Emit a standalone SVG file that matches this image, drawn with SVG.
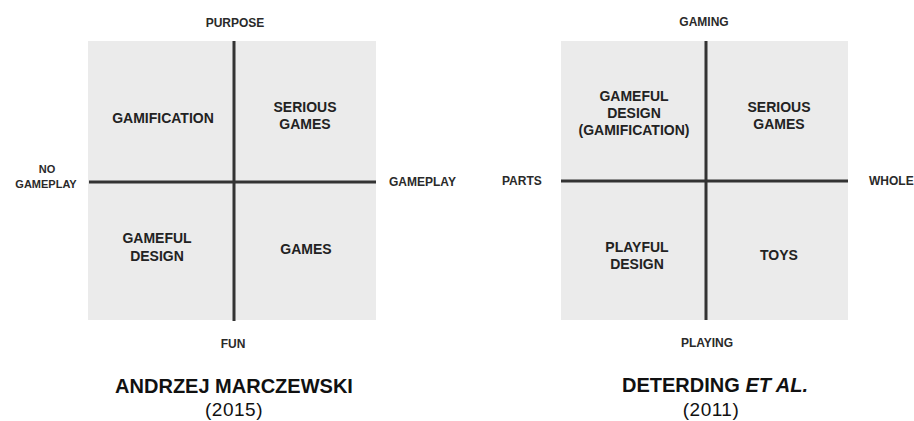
<svg xmlns="http://www.w3.org/2000/svg" width="914" height="421" viewBox="0 0 914 421">
<style>
text{font-family:"Liberation Sans",Arial,sans-serif;fill:#222;}
.ax{font-size:12px;font-weight:bold;fill:#2a2a2a;}
.q{font-size:14px;font-weight:bold;text-anchor:middle;}
.t{font-size:20px;font-weight:bold;text-anchor:middle;fill:#111;}
.y{font-size:19px;text-anchor:middle;letter-spacing:0.5px;fill:#111;}
.bg{fill:#ebebeb;}
.ln{stroke:#333;stroke-width:3;fill:none;}
</style>
<rect width="914" height="421" fill="#fff"/>
<g id="left-panel">
<rect class="bg" x="88" y="41" width="288" height="279"/>
</g>
<g id="right-panel">
<rect class="bg" x="561" y="41" width="287" height="279"/>
</g>
<g id="connectors">
<line class="ln" x1="234" y1="41" x2="234" y2="321"/>
<line class="ln" x1="89" y1="182" x2="376" y2="182"/>
<line class="ln" x1="706" y1="41" x2="706" y2="320"/>
<line class="ln" x1="561" y1="181" x2="848" y2="181"/>
</g>
<g id="left-axes">
<text class="ax" x="235" y="27" text-anchor="middle">PURPOSE</text>
<text class="ax" x="233" y="348" text-anchor="middle">FUN</text>
<text class="ax" x="389" y="186">GAMEPLAY</text>
<text class="ax" x="47" y="173" text-anchor="middle" style="font-size:11px">NO</text>
<text class="ax" x="46" y="188" text-anchor="middle" style="font-size:11px">GAMEPLAY</text>
</g>
<g id="gamification"><text class="q" x="163" y="123">GAMIFICATION</text></g>
<g id="serious-games-1"><text class="q" x="305" y="112">SERIOUS</text><text class="q" x="305" y="129">GAMES</text></g>
<g id="gameful-design-1"><text class="q" x="157" y="243">GAMEFUL</text><text class="q" x="157" y="261">DESIGN</text></g>
<g id="games"><text class="q" x="306" y="254">GAMES</text></g>
<g id="title-left">
<text class="t" x="234" y="393">ANDRZEJ MARCZEWSKI</text>
<text class="y" x="234" y="416">(2015)</text>
</g>
<g id="right-axes">
<text class="ax" x="704" y="26" text-anchor="middle">GAMING</text>
<text class="ax" x="707" y="347" text-anchor="middle">PLAYING</text>
<text class="ax" x="502" y="185">PARTS</text>
<text class="ax" x="869" y="185">WHOLE</text>
</g>
<g id="gameful-design-2"><text class="q" x="634" y="101">GAMEFUL</text><text class="q" x="634" y="118">DESIGN</text><text class="q" x="634" y="135">(GAMIFICATION)</text></g>
<g id="serious-games-2"><text class="q" x="779" y="112">SERIOUS</text><text class="q" x="779" y="129">GAMES</text></g>
<g id="playful-design"><text class="q" x="637" y="252">PLAYFUL</text><text class="q" x="637" y="269">DESIGN</text></g>
<g id="toys"><text class="q" x="779" y="260">TOYS</text></g>
<g id="title-right">
<text class="t" x="715" y="392">DETERDING <tspan font-style="italic">ET AL.</tspan></text>
<text class="y" x="711" y="416">(2011)</text>
</g>
</svg>
